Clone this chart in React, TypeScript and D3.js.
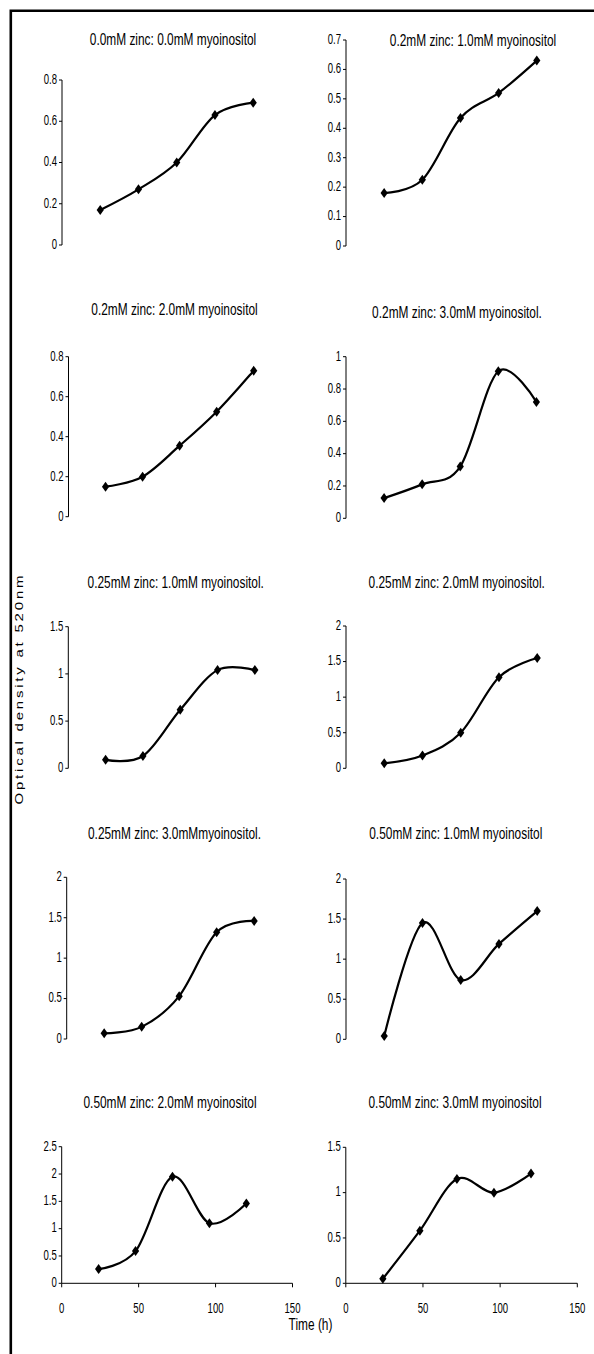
import React from "react";
import * as d3 from "d3";

// ---- data ----
const timeHours = [24, 48, 72, 96, 120];
const panelTitles = [
  "0.0mM zinc: 0.0mM myoinositol",
  "0.2mM zinc: 1.0mM myoinositol",
  "0.2mM zinc: 2.0mM myoinositol",
  "0.2mM zinc: 3.0mM myoinositol.",
  "0.25mM zinc: 1.0mM myoinositol.",
  "0.25mM zinc: 2.0mM myoinositol.",
  "0.25mM zinc: 3.0mMmyoinositol.",
  "0.50mM zinc: 1.0mM myoinositol",
  "0.50mM zinc: 2.0mM myoinositol",
  "0.50mM zinc: 3.0mM myoinositol",
];
const od_z00_m00 = [0.17, 0.27, 0.4, 0.63, 0.69];
const od_z02_m10 = [0.18, 0.225, 0.435, 0.52, 0.63];
const od_z02_m20 = [0.15, 0.2, 0.355, 0.525, 0.73];
const od_z02_m30 = [0.125, 0.21, 0.32, 0.91, 0.72];
const od_z025_m10 = [0.09, 0.13, 0.62, 1.04, 1.04];
const od_z025_m20 = [0.07, 0.18, 0.5, 1.28, 1.55];
const od_z025_m30 = [0.07, 0.15, 0.53, 1.32, 1.46];
const od_z05_m10 = [0.04, 1.45, 0.74, 1.19, 1.6];
const od_z05_m20 = [0.26, 0.59, 1.95, 1.1, 1.46];
const od_z05_m30 = [0.05, 0.58, 1.15, 1.0, 1.21];
const seriesList = [
  od_z00_m00, od_z02_m10, od_z02_m20, od_z02_m30, od_z025_m10,
  od_z025_m20, od_z025_m30, od_z05_m10, od_z05_m20, od_z05_m30,
];
const yAxisMax = [0.8, 0.7, 0.8, 1, 1.5, 2, 2, 2, 2.5, 1.5];
const yAxisStep = [0.2, 0.1, 0.2, 0.2, 0.5, 0.5, 0.5, 0.5, 0.5, 0.5];
const xAxisTicks = [0, 50, 100, 150];
const xAxisMax = 150;
const yAxisTitle = "Optical density at 520nm";
const xAxisTitle = "Time (h)";

// ---- layout (pixels) ----
const layout = [
  { x0: 62, x1: 301, y0: 245, y1: 80, tx: 173, ty: 45 },
  { x0: 346, x1: 584.5, y0: 246, y1: 40, tx: 473, ty: 46 },
  { x0: 68.5, x1: 300, y0: 516.7, y1: 356.7, tx: 174.5, ty: 314.5 },
  { x0: 346, x1: 584, y0: 518.3, y1: 356.7, tx: 457, ty: 317.5 },
  { x0: 68.3, x1: 301.5, y0: 768.3, y1: 626.7, tx: 175.7, ty: 587.7 },
  { x0: 346, x1: 585, y0: 768.3, y1: 626, tx: 456.7, ty: 587.7 },
  { x0: 66.7, x1: 301, y0: 1039, y1: 877.3, tx: 174.5, ty: 838.7 },
  { x0: 346, x1: 585, y0: 1039.3, y1: 879, tx: 455.8, ty: 838.7 },
  { x0: 61.7, x1: 292.5, y0: 1283.3, y1: 1146.7, tx: 170, ty: 1107.7, xAxis: true },
  { x0: 345.8, x1: 577.3, y0: 1283.3, y1: 1147.3, tx: 455, ty: 1107.7, xAxis: true },
];

const FONT = "'Liberation Sans', Arial, Helvetica, sans-serif";
const fmt = (v: number) => String(+v.toFixed(2));

function Panel({ i }: { i: number }) {
  const L = layout[i];
  const values = seriesList[i];
  const x = d3.scaleLinear().domain([0, xAxisMax]).range([L.x0, L.x1]);
  const y = d3.scaleLinear().domain([0, yAxisMax[i]]).range([L.y0, L.y1]);
  const n = Math.round(yAxisMax[i] / yAxisStep[i]);
  const yTicks = d3.range(n + 1).map((k) => +(k * yAxisStep[i]).toFixed(3));
  const pts = timeHours.map((t, k) => [x(t), y(values[k])] as [number, number]);
  const line = d3.line().curve(d3.curveCatmullRom.alpha(0))(pts) || "";
  return (
    <g>
      <text
        transform={`translate(${L.tx},${L.ty}) scale(0.70,1)`}
        textAnchor="middle"
        fontSize={17}
        fontFamily={FONT}
        fill="#000"
      >
        {panelTitles[i]}
      </text>
      <line x1={L.x0} x2={L.x0} y1={L.y1} y2={L.y0} stroke="#000" strokeWidth={1} />
      {yTicks.map((v) => (
        <g key={v}>
          <line x1={L.x0 - 3} x2={L.x0} y1={y(v)} y2={y(v)} stroke="#000" strokeWidth={1} />
          <text
            transform={`translate(${L.x0 - 5},${y(v) + 3.8}) scale(0.66,1)`}
            textAnchor="end"
            fontSize={14.5}
            fontFamily={FONT}
            fill="#000"
          >
            {fmt(v)}
          </text>
        </g>
      ))}
      {L.xAxis && (
        <g>
          <line x1={L.x0} x2={L.x1} y1={L.y0} y2={L.y0} stroke="#000" strokeWidth={1} />
          {xAxisTicks.map((t) => (
            <g key={t}>
              <line x1={x(t)} x2={x(t)} y1={L.y0} y2={L.y0 + 4} stroke="#000" strokeWidth={1} />
              <text
                transform={`translate(${x(t)},${L.y0 + 30}) scale(0.66,1)`}
                textAnchor="middle"
                fontSize={14.5}
                fontFamily={FONT}
                fill="#000"
              >
                {t}
              </text>
            </g>
          ))}
        </g>
      )}
      <path d={line} fill="none" stroke="#000" strokeWidth={2.2} strokeLinejoin="round" />
      {pts.map(([px, py], k) => (
        <path key={k} transform={`translate(${px},${py})`} d="M0,-5L3.6,0L0,5L-3.6,0Z" fill="#000" />
      ))}
    </g>
  );
}

export default function App() {
  return (
    <svg
      width={594}
      height={1354}
      style={{ position: "absolute", left: 0, top: 0, display: "block", background: "#fff" }}
    >
      <rect x={0} y={0} width={594} height={1354} fill="#fff" />
      <path d="M10.8,1354 L10.8,10.8 L594,10.8" fill="none" stroke="#000" strokeWidth={2.6} />
      {layout.map((_, i) => (
        <Panel key={i} i={i} />
      ))}
      <text
        transform={`translate(23,690) rotate(-90) scale(1,0.75)`}
        textAnchor="middle"
        fontSize={15}
        fontFamily={FONT}
        textLength={229}
        lengthAdjust="spacing"
        fill="#000"
      >
        {yAxisTitle}
      </text>
      <text
        transform={`translate(310.5,1330) scale(0.70,1)`}
        textAnchor="middle"
        fontSize={17}
        fontFamily={FONT}
        fill="#000"
      >
        {xAxisTitle}
      </text>
    </svg>
  );
}
